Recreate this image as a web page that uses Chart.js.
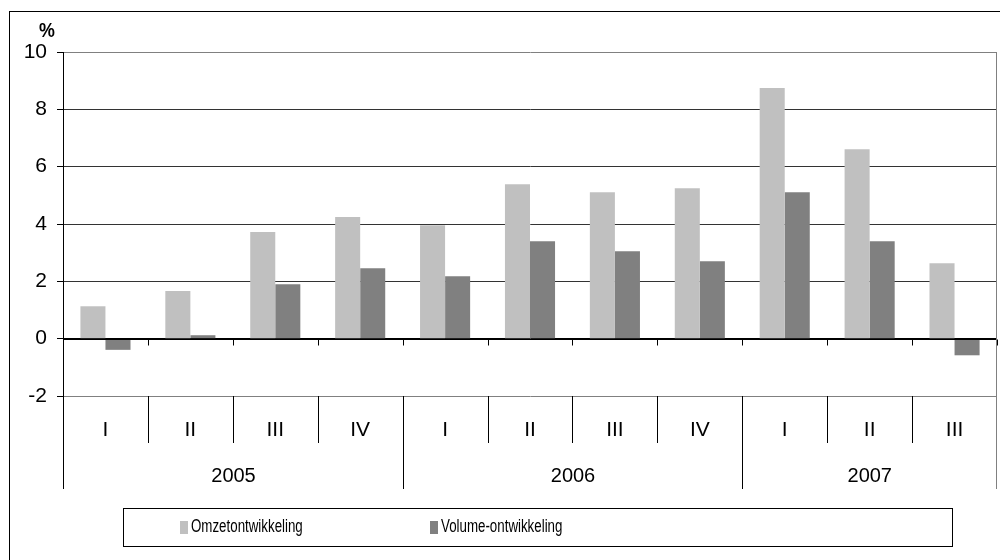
<!DOCTYPE html>
<html>
<head>
<meta charset="utf-8">
<script src="https://cdn.jsdelivr.net/npm/chart.js@4/dist/chart.umd.min.js"></script>
<style>
  html, body { margin: 0; padding: 0; background: #fff; }
  #wrap { width: 1000px; height: 560px; }
</style>
</head>
<body>
<div id="wrap"><canvas id="grafiek" width="1000" height="560"></canvas></div>
<script>
// kwartalen en jaren
const kwartalen = ['I', 'II', 'III', 'IV', 'I', 'II', 'III', 'IV', 'I', 'II', 'III'];
const jaren = ['2005', '2006', '2007'];
const kwartalenPerJaar = [4, 4, 3];

// ontwikkeling t.o.v. zelfde kwartaal vorig jaar (%)
const omzet = [1.13, 1.66, 3.72, 4.24, 3.96, 5.39, 5.11, 5.25, 8.74, 6.61, 2.63];
const volume = [-0.39, 0.12, 1.9, 2.46, 2.18, 3.4, 3.05, 2.7, 5.11, 3.4, -0.58];

const yTicks = [-2, 0, 2, 4, 6, 8, 10];
const eenheid = '%';

const FONT = "'Liberation Sans', Arial, sans-serif";

// smalle tekst: geen Arial Narrow aanwezig, dus horizontaal samendrukken
function smalleTekst(c, tekst, x, y, schaal) {
    c.save();
    c.translate(x, y);
    c.scale(schaal, 1);
    c.fillText(tekst, 0, 0);
    c.restore();
}

// alles rond het plotvlak: kader, categorie-as in twee niveaus, legenda
const omlijsting = {
    id: 'omlijsting',
    beforeDraw(chart) {
        const c = chart.ctx;
        c.save();
        c.fillStyle = '#fff';
        c.fillRect(0, 0, chart.width, chart.height);
        c.restore();
    },
    afterDatasetsDraw(chart) {
        const c = chart.ctx;
        const a = chart.chartArea;
        const x = chart.scales.x;
        const y = chart.scales.y;
        const y0 = Math.round(y.getPixelForValue(0)) + 0.5;
        const half = (x.getPixelForValue(1) - x.getPixelForValue(0)) / 2;
        c.save();
        // nullijn met streepjes
        c.strokeStyle = '#000';
        c.lineWidth = 1;
        c.beginPath();
        c.moveTo(a.left, y0);
        c.lineTo(a.right, y0);
        for (let i = 1; i <= kwartalen.length; i++) {
            const bx = Math.round(x.getPixelForValue(i - 1) + half) + 0.5;
            c.moveTo(bx, y0);
            c.lineTo(bx, y0 + 6);
        }
        c.stroke();
        c.restore();
    },
    afterDraw(chart) {
        const c = chart.ctx;
        const a = chart.chartArea;
        const x = chart.scales.x;
        const half = (x.getPixelForValue(1) - x.getPixelForValue(0)) / 2;
        const grens = i => Math.round(x.getPixelForValue(i) - half) + 0.5;
        const kwartOnder = a.bottom + 47;
        const jaarOnder = a.bottom + 93;
        c.save();

        // buitenkader
        c.strokeStyle = '#000';
        c.lineWidth = 1;
        c.strokeRect(9.5, 11.5, chart.width + 20, chart.height + 20);

        // linker as doorgetrokken, rechterrand grijs
        c.beginPath();
        c.moveTo(a.left + 0.5, a.bottom);
        c.lineTo(a.left + 0.5, jaarOnder);
        c.stroke();
        c.strokeStyle = '#808080';
        c.beginPath();
        c.moveTo(a.right - 0.5, a.top);
        c.lineTo(a.right - 0.5, jaarOnder);
        c.stroke();

        // scheidingen tussen kwartalen en jaren
        const jaarGrenzen = [0];
        kwartalenPerJaar.reduce((s, n) => { jaarGrenzen.push(s + n); return s + n; }, 0);
        c.strokeStyle = '#000';
        c.beginPath();
        for (let i = 1; i < kwartalen.length; i++) {
            const bx = grens(i);
            c.moveTo(bx, a.bottom);
            c.lineTo(bx, jaarGrenzen.includes(i) ? jaarOnder : kwartOnder);
        }
        c.stroke();

        // kwartaal- en jaarlabels
        c.fillStyle = '#000';
        c.textAlign = 'center';
        c.textBaseline = 'middle';
        c.font = '21px ' + FONT;
        kwartalen.forEach((k, i) => {
            c.fillText(k, x.getPixelForValue(i), a.bottom + 34);
        });
        c.font = '20px ' + FONT;
        jaren.forEach((j, n) => {
            const rechts = jaarGrenzen[n + 1] === kwartalen.length ? a.right : grens(jaarGrenzen[n + 1]);
            c.fillText(j, (grens(jaarGrenzen[n]) + rechts) / 2, a.bottom + 80);
        });

        // eenheid boven de y-as
        c.font = 'bold 21px ' + FONT;
        smalleTekst(c, eenheid, 47, 31, 0.85);

        // legenda in kader
        c.strokeStyle = '#000';
        c.strokeRect(123.5, 508.5, 829, 38);
        c.textAlign = 'left';
        c.font = '18px ' + FONT;
        const posities = [180, 430];
        chart.data.datasets.forEach((ds, i) => {
            c.fillStyle = ds.backgroundColor;
            c.fillRect(posities[i], 521, 8, 13);
            c.fillStyle = '#000';
            smalleTekst(c, ds.label, posities[i] + 11, 527, 0.74);
        });
        c.restore();
    }
};

new Chart(document.getElementById('grafiek'), {
    type: 'bar',
    data: {
        labels: kwartalen,
        datasets: [
            {
                label: 'Omzetontwikkeling',
                data: omzet,
                backgroundColor: '#c0c0c0',
                categoryPercentage: 0.59,
                barPercentage: 1
            },
            {
                label: 'Volume-ontwikkeling',
                data: volume,
                backgroundColor: '#808080',
                categoryPercentage: 0.59,
                barPercentage: 1
            }
        ]
    },
    options: {
        responsive: false,
        animation: false,
        layout: { padding: { left: 9, top: 52, right: 3, bottom: 164 } },
        scales: {
            x: { display: false },
            y: {
                min: -2,
                max: 10,
                afterFit: s => { s.width = 54; },
                afterBuildTicks: s => { s.ticks = yTicks.map(v => ({ value: v })); },
                ticks: {
                    padding: 10,
                    color: '#000',
                    font: { family: FONT, size: 21 }
                },
                grid: {
                    tickLength: 6,
                    tickColor: '#000',
                    color: ctx => {
                        const v = ctx.tick && ctx.tick.value;
                        if (v === 0) return '#000';
                        if (v === 10 || v === -2) return '#808080';
                        return '#333';
                    }
                },
                border: { color: '#000' }
            }
        },
        plugins: {
            legend: { display: false },
            tooltip: { enabled: false }
        }
    },
    plugins: [omlijsting]
});
</script>
</body>
</html>
